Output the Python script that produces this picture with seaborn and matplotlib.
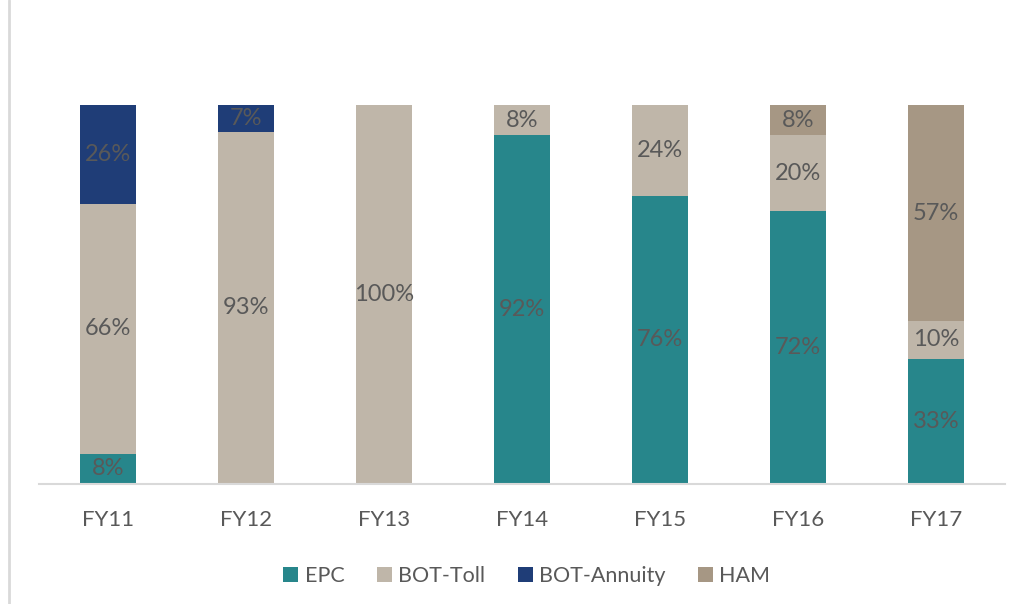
import numpy as np
import pandas as pd
import seaborn as sns
import matplotlib.pyplot as plt
from matplotlib.lines import Line2D

# chart data (share of order book, %)
years = ["FY11", "FY12", "FY13", "FY14", "FY15", "FY16", "FY17"]
epc = [8, 0, 0, 92, 76, 72, 33]
bot_toll = [66, 93, 100, 8, 24, 20, 10]
bot_annuity = [26, 7, 0, 0, 0, 0, 0]
ham = [0, 0, 0, 0, 0, 8, 57]

series = {"EPC": epc, "BOT-Toll": bot_toll, "BOT-Annuity": bot_annuity, "HAM": ham}
colors = {"EPC": "#27868B", "BOT-Toll": "#BFB6A9", "BOT-Annuity": "#1F3D77", "HAM": "#A69784"}

sns.set_style("white")
plt.rcParams["font.family"] = ["Lato", "DejaVu Sans"]
text_color = "#595959"

fig = plt.figure(figsize=(10.25, 6.04), dpi=100)
ax = fig.add_axes([39 / 1025, 120 / 604, 966 / 1025, 379 / 604])

bottom = np.zeros(len(years))
for name, vals in series.items():
    df = pd.DataFrame({"year": years, "value": vals})
    sns.barplot(data=df, x="year", y="value", order=years, color=colors[name],
                bottom=bottom, width=0.4, ax=ax, label=name, saturation=1,
                edgecolor="none", linewidth=0)
    cont = ax.containers[-1]
    labels = [f"{v}%" if v > 0 else "" for v in vals]
    ax.bar_label(cont, labels=labels, label_type="center", color=text_color, fontsize=17)
    bottom = bottom + np.array(vals)

ax.set_xlim(-0.5, len(years) - 0.5)
ax.set_ylim(0, 100)
ax.set_xlabel("")
ax.set_ylabel("")
ax.set_yticks([])
ax.tick_params(axis="x", length=0, pad=19, labelsize=16, labelcolor=text_color)
for s in ["top", "right", "left"]:
    ax.spines[s].set_visible(False)
ax.spines["bottom"].set_color("#D9D9D9")
ax.spines["bottom"].set_linewidth(1.5)

ax.legend(loc="upper center", bbox_to_anchor=(0.505, -0.165), ncol=4, frameon=False,
          fontsize=15.5, labelcolor=text_color, handlelength=0.7, handleheight=0.7,
          handletextpad=0.3, columnspacing=1.5)

# thin border line on the left edge of the figure
fig.add_artist(Line2D([9 / 1025, 9 / 1025], [0, 1], color="#D9D9D9", linewidth=2))

fig.savefig("out.png", dpi=100)
